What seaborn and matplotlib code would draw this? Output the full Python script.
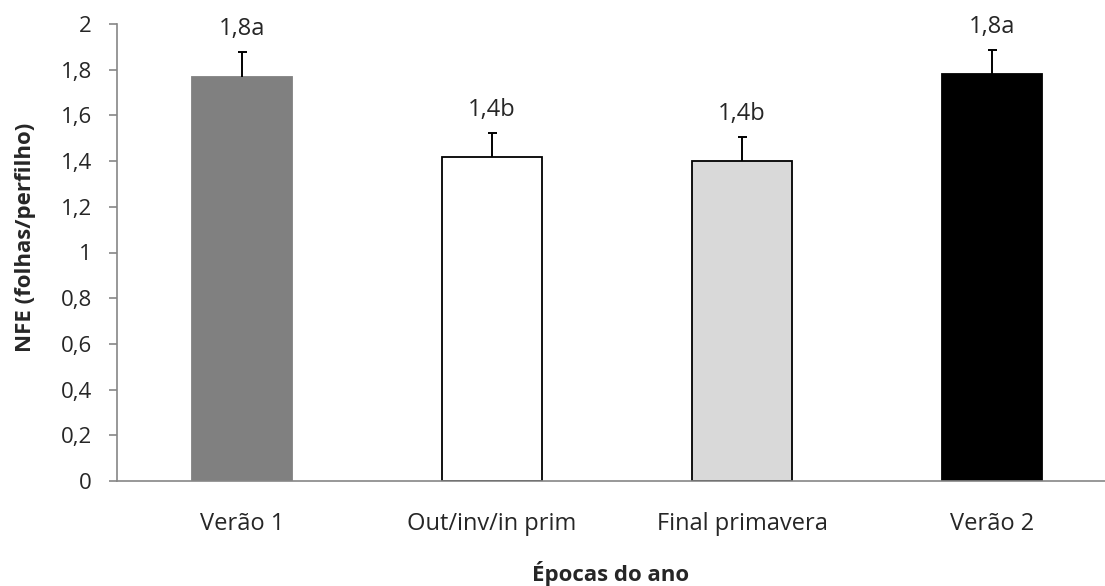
import matplotlib
matplotlib.use("Agg")
import matplotlib.pyplot as plt
import seaborn as sns
import pandas as pd
from matplotlib.ticker import FixedLocator

categories = ["Verão 1", "Out/inv/in prim", "Final primavera", "Verão 2"]
means = [1.77, 1.42, 1.40, 1.78]
errors = [0.107, 0.103, 0.107, 0.105]
labels = ["1,8a", "1,4b", "1,4b", "1,8a"]
colors = ["#808080", "#ffffff", "#d9d9d9", "#000000"]
edges = ["#808080", "#000000", "#000000", "#000000"]
yticks = [0, 0.2, 0.4, 0.6, 0.8, 1, 1.2, 1.4, 1.6, 1.8, 2]
ytick_labels = ["0", "0,2", "0,4", "0,6", "0,8", "1", "1,2", "1,4", "1,6", "1,8", "2"]

sns.set_style("white")
plt.rcParams['font.family'] = ['Open Sans', 'DejaVu Sans']

df = pd.DataFrame({"cat": categories, "val": means})

fig = plt.figure(figsize=(11.05, 5.86), dpi=100)
ax = fig.add_axes([117/1105, 105/586, 1 - 117/1105, 457/586])

sns.barplot(data=df, x="cat", y="val", hue="cat", palette=colors, width=0.4,
            legend=False, ax=ax, errorbar=None, saturation=1)
for p, ec in zip(ax.patches, edges):
    p.set_edgecolor(ec)
    p.set_linewidth(1.3)

xs = list(range(len(categories)))
tops = [m + e for m, e in zip(means, errors)]
ax.vlines(xs, means, tops, color="black", linewidth=1.4, zorder=5)
ax.hlines(tops, [x - 0.018 for x in xs], [x + 0.018 for x in xs], color="black",
          linewidth=1.4, zorder=5)
for x, t, lab in zip(xs, tops, labels):
    ax.annotate(lab, (x, t), xytext=(0, 8), textcoords="offset points",
                ha="center", va="bottom", fontsize=17)

ax.set_ylim(0, 2)
ax.set_xlim(-0.5, 3.452)
ax.set_yticks(yticks)
ax.set_yticklabels(ytick_labels, fontsize=16)
ax.set_xticks(xs)
ax.set_xticklabels(categories, fontsize=17)
ax.xaxis.set_minor_locator(FixedLocator([-0.5, 0.5, 1.5, 2.5]))
ax.tick_params(axis="x", which="major", length=0, pad=22)
ax.tick_params(axis="x", which="minor", length=6.5, color="#868686", width=1.2, direction="out")
ax.tick_params(axis="y", length=6, color="#868686", width=1.2, direction="out", pad=12, left=True)

for s in ["top", "right"]:
    ax.spines[s].set_visible(False)
for s in ["left", "bottom"]:
    ax.spines[s].set_color("#868686")
    ax.spines[s].set_linewidth(1.2)

ax.set_xlabel("Épocas do ano", fontsize=16, fontweight="bold", labelpad=18)
ax.set_ylabel("NFE (folhas/perfilho)", fontsize=16, fontweight="bold")
ax.yaxis.set_label_coords((36 - 117) / 988, (586 - 237 - 105) / 457)

fig.savefig("out.png", dpi=100)
